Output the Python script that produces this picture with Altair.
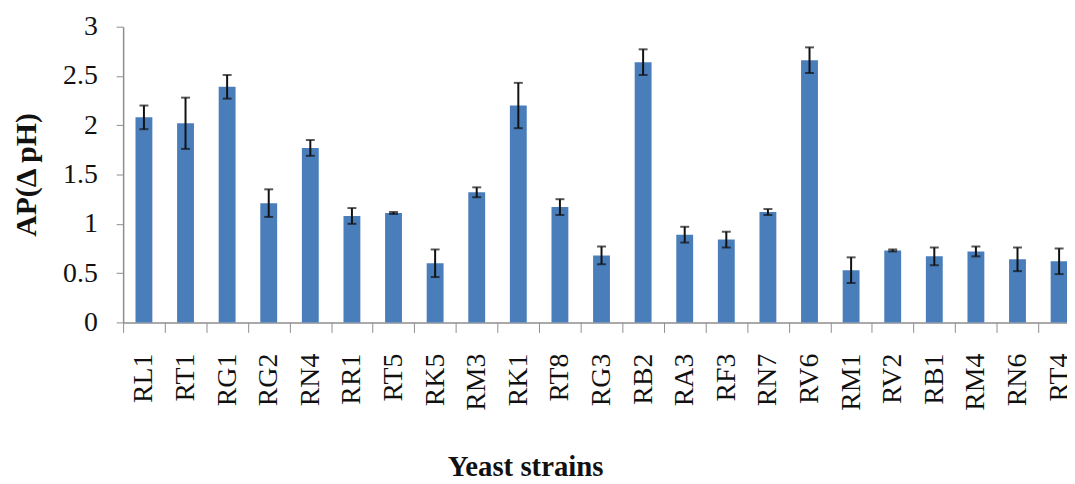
import altair as alt
import pandas as pd

strains = ["RL1", "RT1", "RG1", "RG2", "RN4", "RR1", "RT5", "RK5", "RM3", "RK1", "RT8", "RG3",
           "RB2", "RA3", "RF3", "RN7", "RV6", "RM1", "RV2", "RB1", "RM4", "RN6", "RT4"]
ap_values = [2.08, 2.02, 2.39, 1.21, 1.77, 1.08, 1.11, 0.60, 1.32, 2.20, 1.17, 0.68,
             2.64, 0.89, 0.84, 1.12, 2.66, 0.53, 0.73, 0.67, 0.72, 0.64, 0.62]
ap_errors = [0.12, 0.26, 0.12, 0.14, 0.08, 0.08, 0.01, 0.14, 0.05, 0.23, 0.08, 0.09,
             0.13, 0.08, 0.08, 0.03, 0.13, 0.13, 0.01, 0.09, 0.05, 0.12, 0.13]
y_ticks = [0, 0.5, 1, 1.5, 2, 2.5, 3]

df = pd.DataFrame({"strain": strains, "ap": ap_values, "err": ap_errors})
df["lo"] = df["ap"] - df["err"]
df["hi"] = df["ap"] + df["err"]

FONT = "Liberation Serif"
AXIS_GRAY = "#8e8e8e"

x_enc = alt.X(
    "strain:N",
    sort=strains,
    scale=alt.Scale(range=[0, 964], paddingInner=0, paddingOuter=0),
    axis=alt.Axis(
        title="Yeast strains",
        labelAngle=-90,
        labelFont=FONT, labelFontSize=28, labelColor="#111111", labelPadding=21,
        tickBand="extent", tickSize=10, tickColor=AXIS_GRAY, tickWidth=1,
        domainColor=AXIS_GRAY, domainWidth=1.5,
        titleFont=FONT, titleFontSize=29, titleFontWeight="bold", titleColor="#111111",
        titleX=405, titleY=154, titleAlign="center", titleBaseline="alphabetic",
        grid=False,
    ),
)

y_scale = alt.Scale(domain=[0, 3], nice=False, zero=True)
y_axis = alt.Axis(
    title="AP(Δ pH)",
    values=y_ticks, format="~g",
    labelFont=FONT, labelFontSize=28, labelColor="#111111", labelPadding=19,
    tickSize=7, tickColor=AXIS_GRAY, tickWidth=1,
    domainColor=AXIS_GRAY, domainWidth=1.5,
    titleFont=FONT, titleFontSize=30, titleFontWeight="bold", titleColor="#111111",
    titleX=-97, titleY=149, titleAngle=270, titleAlign="center", titleBaseline="middle",
    grid=False,
)

base = alt.Chart(df)

bars = base.mark_bar(size=17, color="#4a7ebb").encode(
    x=x_enc,
    y=alt.Y("ap:Q", scale=y_scale, axis=y_axis),
)

rules = base.mark_rule(color="#111111", strokeWidth=2).encode(
    x=alt.X("strain:N", sort=strains),
    y=alt.Y("lo:Q", scale=y_scale),
    y2="hi:Q",
)

caps_hi = base.mark_tick(color="#111111", size=9, thickness=2, orient="horizontal").encode(
    x=alt.X("strain:N", sort=strains),
    y=alt.Y("hi:Q", scale=y_scale),
)
caps_lo = base.mark_tick(color="#111111", size=9, thickness=2, orient="horizontal").encode(
    x=alt.X("strain:N", sort=strains),
    y=alt.Y("lo:Q", scale=y_scale),
)

chart = alt.layer(bars, rules, caps_hi, caps_lo).properties(
    width=951,
    height=298,
    autosize=alt.AutoSizeParams(type="none"),
    padding={"left": 116, "top": 17, "right": 0, "bottom": 161},
    background="white",
).configure_view(stroke=None)

chart.save("out.html", embed_options={"renderer": "svg", "actions": False})
